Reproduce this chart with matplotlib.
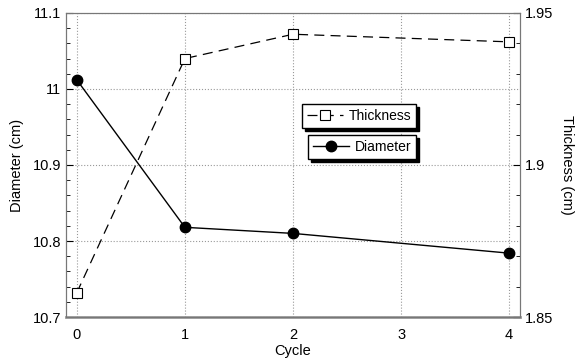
import numpy as np
import matplotlib.pyplot as plt
from matplotlib.ticker import MultipleLocator

plt.rcParams['font.family'] = ['Liberation Sans', 'DejaVu Sans']

cycle = [0, 1, 2, 4]
diameter = [11.012, 10.818, 10.810, 10.784]
thickness = [1.858, 1.935, 1.943, 1.9405]

fig = plt.figure(figsize=(5.81, 3.6), dpi=100)
ax = fig.add_axes([0.1136, 0.1194, 0.7814, 0.8446])
ax2 = ax.twinx()

ld, = ax.plot(cycle, diameter, color='black', lw=1.0, marker='o', ms=7.5,
              mfc='black', mec='black', label='Diameter', zorder=3)
lt, = ax2.plot(cycle, thickness, color='black', lw=0.9, ls=(0, (8, 5)),
               marker='s', ms=7, mfc='white', mec='black', mew=0.8,
               label='Thickness', zorder=3)

ax.set_xlim(-0.1, 4.1)
ax.set_ylim(10.7, 11.1)
ax2.set_ylim(1.85, 1.95)
ax.set_xticks([0, 1, 2, 3, 4])
ax.set_yticks([10.7, 10.8, 10.9, 11.0, 11.1])
ax.set_yticklabels(['10.7', '10.8', '10.9', '11', '11.1'])
ax2.set_yticks([1.85, 1.9, 1.95])
ax2.set_yticklabels(['1.85', '1.9', '1.95'])
ax.yaxis.set_minor_locator(MultipleLocator(0.02))
ax2.yaxis.set_minor_locator(MultipleLocator(0.01))

ax.grid(True, which='major', color='#999999', ls=':', lw=0.8)
ax.tick_params(axis='both', which='both', direction='in', labelsize=10.5)
ax.tick_params(axis='x', length=0, pad=8)
ax.tick_params(axis='y', which='major', length=5)
ax.tick_params(axis='y', which='minor', length=3)
ax2.tick_params(axis='y', which='both', direction='in', labelsize=10.5)
ax2.tick_params(axis='y', which='major', length=5)
ax2.tick_params(axis='y', which='minor', length=3)

for a in (ax, ax2):
    for s in a.spines.values():
        s.set_color('#777777')
        s.set_linewidth(0.8)
ax.spines['bottom'].set_color('#999999')
ax.spines['bottom'].set_linewidth(2)

ax.set_xlabel('Cycle', fontsize=10.5, labelpad=1)
ax.set_ylabel('Diameter (cm)', fontsize=10.5, labelpad=6)
ax2.set_ylabel('Thickness (cm)', fontsize=10.5, rotation=270, labelpad=15)

shadow = {'color': 'black', 'alpha': 1, 'ox': 2, 'oy': -2}
leg1 = ax2.legend(handles=[lt], loc='upper left', bbox_to_anchor=(0.52, 0.70),
                  frameon=True, fancybox=False, shadow=shadow, fontsize=10,
                  handlelength=2.6, borderpad=0.35, handletextpad=0.4,
                  borderaxespad=0)
leg1.get_frame().set_edgecolor('black')
leg1.get_frame().set_linewidth(1.0)
ax2.add_artist(leg1)
leg2 = ax2.legend(handles=[ld], loc='upper left', bbox_to_anchor=(0.533, 0.598),
                  frameon=True, fancybox=False, shadow=shadow, fontsize=10,
                  handlelength=2.6, borderpad=0.35, handletextpad=0.4,
                  borderaxespad=0)
leg2.get_frame().set_edgecolor('black')
leg2.get_frame().set_linewidth(1.0)

fig.savefig('out.png', dpi=100)
